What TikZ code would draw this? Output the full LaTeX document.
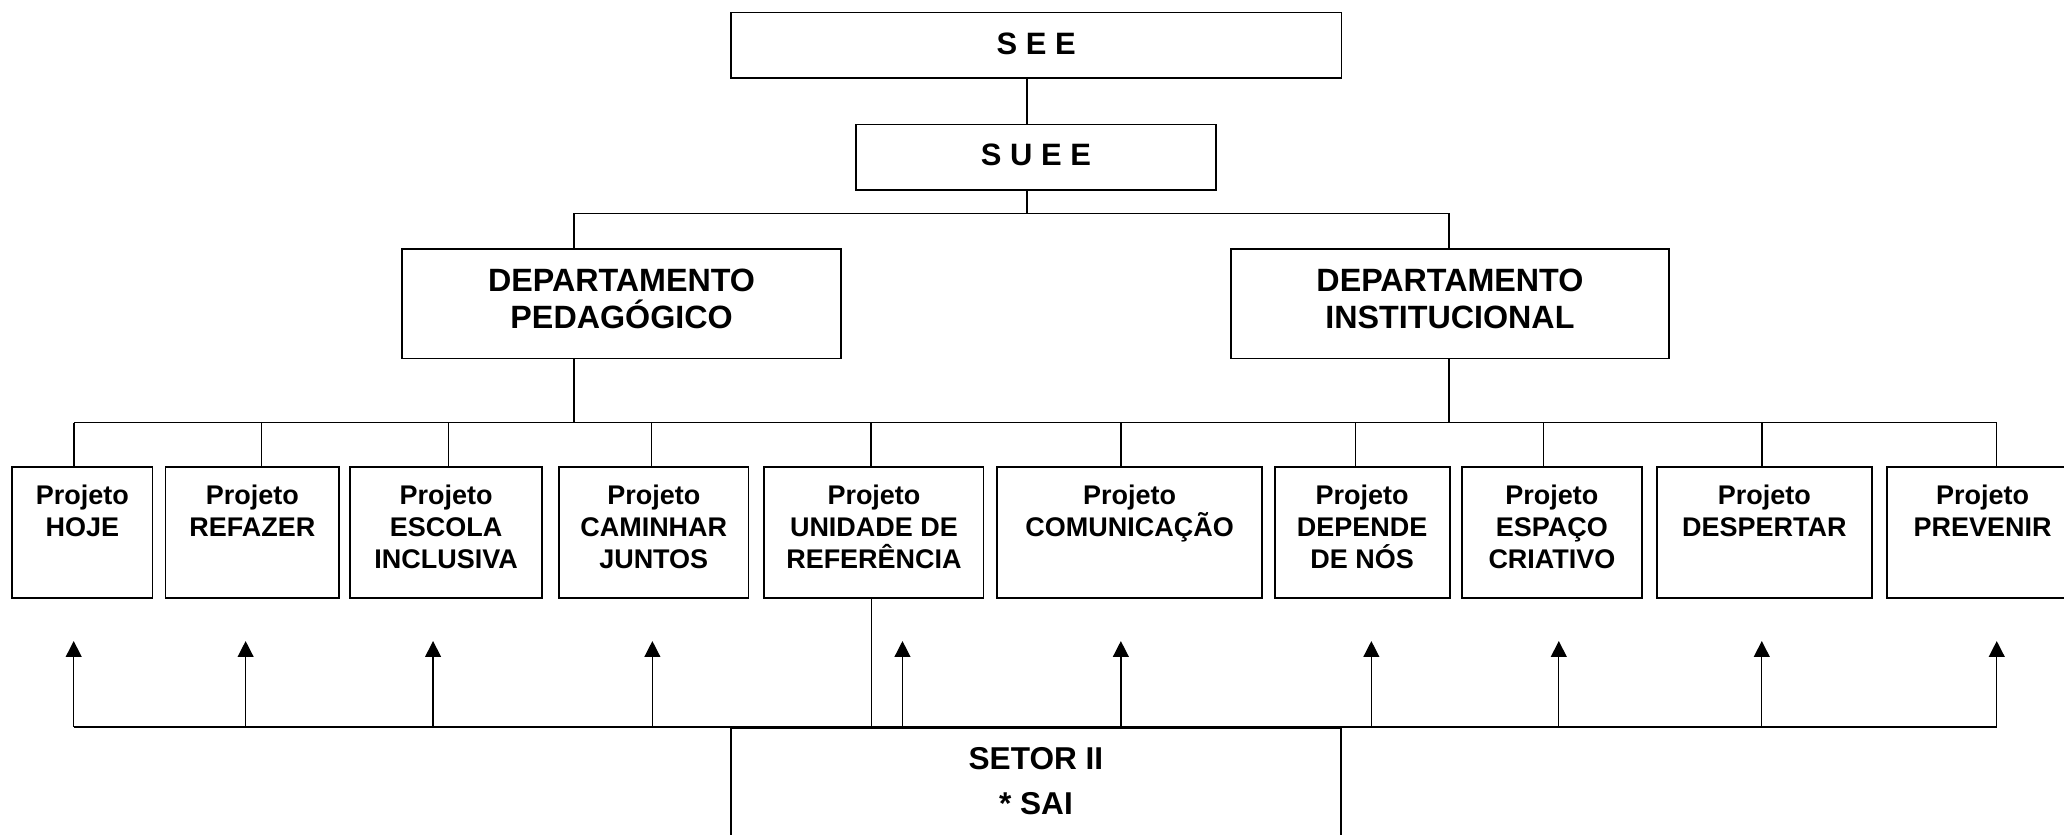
\documentclass[tikz,border=0pt]{standalone}
\usepackage{fontspec}
\setmainfont{Liberation Sans}
\usetikzlibrary{arrows.meta}
\newcommand\bxt[4]{\parbox[c][#2][t]{#1}{\centering\rule{0pt}{#3}#4}}
\tikzset{
  orgbox/.style={draw, line width=1.3pt, inner sep=0pt, anchor=north west, font=\bfseries},
  bigf/.style={font=\bfseries\fontsize{23.5pt}{28pt}\selectfont},
  deptf/.style={font=\bfseries\fontsize{24.5pt}{28pt}\selectfont},
  projf/.style={font=\bfseries\fontsize{20.5pt}{24.3pt}\selectfont},
  setf/.style={font=\bfseries\fontsize{24pt}{34pt}\selectfont},
  conn/.style={line width=1pt},
  bus/.style={line width=1.4pt},
  arr/.style={line width=1pt, -{Triangle[width=12pt,length=12pt]}}
}
\begin{document}
\begin{tikzpicture}[x=1pt,y=-1pt]
\clip (0,0) rectangle (1568,633.6);
\fill[white] (0,0) rectangle (1568,633.6);
% top boxes
\node[orgbox,bigf] (see) at (554.7,8.9) {\bxt{463.8pt}{49.9pt}{31.6pt}{S E E}};
\node[orgbox,bigf] (suee) at (649.7,94) {\bxt{273.3pt}{49.6pt}{31.4pt}{S U E E}};
\node[orgbox,deptf] (ped) at (305,188.7) {\bxt{333.1pt}{83.1pt}{32.4pt}{DEPARTAMENTO\\PEDAGÓGICO}};
\node[orgbox,deptf] (inst) at (934.3,188.7) {\bxt{333.1pt}{83.1pt}{32.4pt}{DEPARTAMENTO\\INSTITUCIONAL}};
% projects
\node[orgbox,projf] (p1) at (8.7,354.1) {\bxt{106.6pt}{99.5pt}{28.4pt}{Projeto\\HOJE}};
\node[orgbox,projf] (p2) at (125,354.1) {\bxt{132pt}{99.5pt}{28.4pt}{Projeto\\REFAZER}};
\node[orgbox,projf] (p3) at (265.5,354.1) {\bxt{145.5pt}{99.5pt}{28.4pt}{Projeto\\ESCOLA\\INCLUSIVA}};
\node[orgbox,projf] (p4) at (424,354.1) {\bxt{144pt}{99.5pt}{28.4pt}{Projeto\\CAMINHAR\\JUNTOS}};
\node[orgbox,projf] (p5) at (580,354.1) {\bxt{166.6pt}{99.5pt}{28.4pt}{Projeto\\UNIDADE DE\\REFERÊNCIA}};
\node[orgbox,projf] (p6) at (757,354.1) {\bxt{201pt}{99.5pt}{28.4pt}{Projeto\\COMUNICAÇÃO}};
\node[orgbox,projf] (p7) at (967.7,354.1) {\bxt{133pt}{99.5pt}{28.4pt}{Projeto\\DEPENDE\\DE NÓS}};
\node[orgbox,projf] (p8) at (1110,354.1) {\bxt{136.7pt}{99.5pt}{28.4pt}{Projeto\\ESPAÇO\\CRIATIVO}};
\node[orgbox,projf] (p9) at (1258,354.1) {\bxt{163.4pt}{99.5pt}{28.4pt}{Projeto\\DESPERTAR}};
\node[orgbox,projf] (p10) at (1433,354.1) {\bxt{145pt}{99.5pt}{28.4pt}{Projeto\\PREVENIR}};
% setor
\node[orgbox,setf] (setor) at (554.7,552.2) {\bxt{463.3pt}{110pt}{31.6pt}{SETOR II\\{}* SAI}};
% top connectors
\coordinate (xa) at (780.2,0);
\draw[conn] (see.south -| xa) -- (suee.north -| xa);
\coordinate (j1) at (780.2,162.1);
\coordinate (tl) at (436,162.1);
\coordinate (tr) at (1100.8,162.1);
\draw[conn] (suee.south -| j1) -- (j1);
\draw[conn] (ped.north -| tl) -- (tl) -- (tr) -- (inst.north -| tr);
% second bus
\coordinate (bl) at (56.2,321);
\coordinate (br) at (1516.7,321);
\draw[bus] (bl) -- (br);
\draw[conn] (ped.south -| tl) -- (tl |- bl);
\draw[conn] (inst.south -| tr) -- (tr |- bl);
\foreach \x/\n [count=\i] in {56.2/p1,198.6/p2,340.6/p3,495/p4,661.8/p5,851.7/p6,1029.6/p7,1172.4/p8,1338.5/p9,1516.7/p10}{
  \coordinate (d\i) at (\x,321);
  \draw[conn] (d\i) -- (d\i |- \n.north);
}
% bottom bus and arrows
\coordinate (ql) at (56,552.2);
\coordinate (qr) at (1516.9,552.2);
\coordinate (u) at (661.9,552.2);
\draw[conn] (p5.south -| u) -- (u);
\foreach \x [count=\i] in {56,186.6,329,495.6,685.6,851.5,1041.8,1184.2,1338.4,1516.9}{
  \coordinate (a\i) at (\x,552.2);
  \coordinate (t\i) at (\x,487);
  \draw[arr] (a\i) -- (t\i);
}
\draw[bus] (ql) -- (qr);
\end{tikzpicture}
\end{document}
